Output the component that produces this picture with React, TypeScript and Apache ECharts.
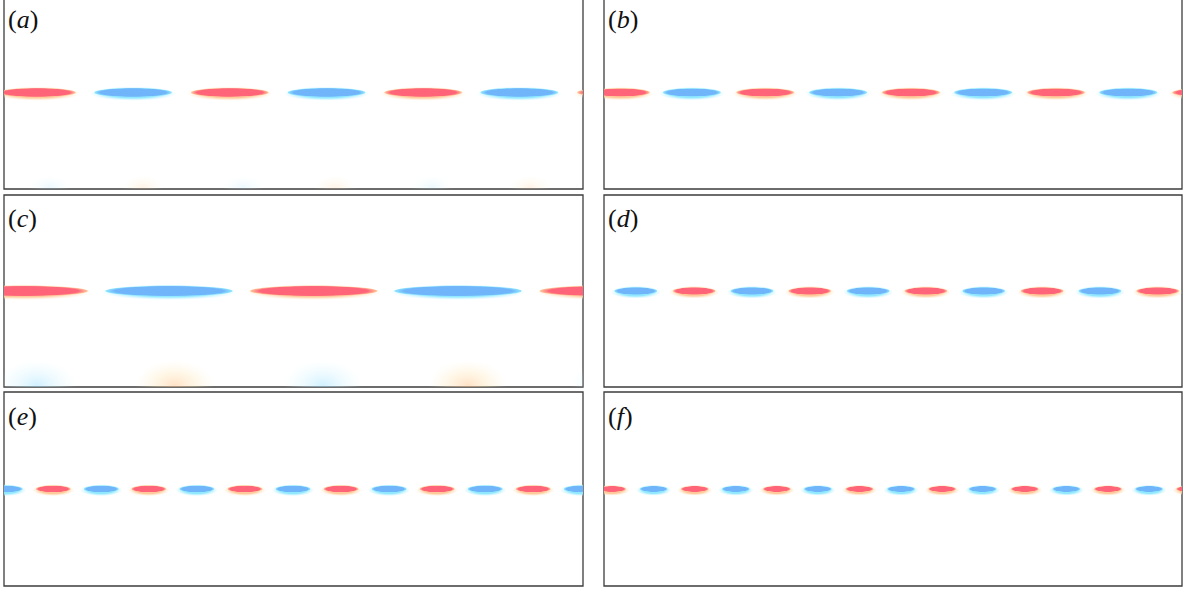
import React, { useEffect, useRef } from "react";
import * as echarts from "echarts";

// Panel labels
const panelLabels = ["a", "b", "c", "d", "e", "f"];

// Streamwise positions of the primary (centre-line) structures, x in [0, 10]
// sign: +1 = positive (red), -1 = negative (blue)
const aCenters = [0.57, 2.23, 3.9, 5.57, 7.24, 8.9, 10.57];
const aSigns = [1, -1, 1, -1, 1, -1, 1];
const aHalfLength = 0.67;
const aHalfThickness = 0.047;

const bCenters = [0.29, 1.52, 2.79, 4.05, 5.31, 6.56, 7.82, 9.07, 10.33];
const bSigns = [1, -1, 1, -1, 1, -1, 1, -1, 1];
const bHalfLength = 0.5;
const bHalfThickness = 0.043;

const cCenters = [0.35, 2.85, 5.35, 7.84, 10.35];
const cSigns = [1, -1, 1, -1, 1];
const cHalfLength = 1.1;
const cHalfThickness = 0.055;

const dCenters = [0.55, 1.56, 2.56, 3.56, 4.57, 5.57, 6.57, 7.58, 8.58, 9.58];
const dSigns = [-1, 1, -1, 1, -1, 1, -1, 1, -1, 1];
const dHalfLength = 0.37;
const dHalfThickness = 0.04;

const eCenters = [0.02, 0.85, 1.68, 2.5, 3.33, 4.16, 4.99, 5.82, 6.65, 7.48, 8.31, 9.14, 9.97];
const eSigns = [-1, 1, -1, 1, -1, 1, -1, 1, -1, 1, -1, 1, -1];
const eHalfLength = 0.3;
const eHalfThickness = 0.035;

const fCenters = [0.14, 0.86, 1.57, 2.28, 2.99, 3.7, 4.42, 5.14, 5.85, 6.55, 7.28, 8.0, 8.72, 9.43, 10.14];
const fSigns = [1, -1, 1, -1, 1, -1, 1, -1, 1, -1, 1, -1, 1, -1, 1];
const fHalfLength = 0.24;
const fHalfThickness = 0.031;

// Weak secondary structures near the lower wall (panels a and c)
const aLowerCenters = [0.79, 2.4, 4.13, 5.72, 7.39, 9.08];
const aLowerSigns = [-1, 1, -1, 1, -1, 1];
const aLowerAmplitude = 0.12;
const aLowerHalfLength = 0.36;
const aLowerHalfThickness = 0.12;
const aLowerY = -0.98;

const cLowerCenters = [0.57, 2.95, 5.51, 8.01, 10.47];
const cLowerSigns = [-1, 1, -1, 1, -1];
const cLowerAmplitude = 0.3;
const cLowerHalfLength = 0.68;
const cLowerHalfThickness = 0.26;
const cLowerY = -0.98;

type Blob = [number, number, number, number, number];

function blobs(centers: number[], signs: number[], hl: number, ht: number, y = 0, amp = 1): Blob[] {
  return centers.map((x, i) => [x, y, hl, ht, signs[i] * amp]);
}

const panelData: Blob[][] = [
  [...blobs(aLowerCenters, aLowerSigns, aLowerHalfLength, aLowerHalfThickness, aLowerY, aLowerAmplitude), ...blobs(aCenters, aSigns, aHalfLength, aHalfThickness)],
  blobs(bCenters, bSigns, bHalfLength, bHalfThickness),
  [...blobs(cLowerCenters, cLowerSigns, cLowerHalfLength, cLowerHalfThickness, cLowerY, cLowerAmplitude), ...blobs(cCenters, cSigns, cHalfLength, cHalfThickness)],
  blobs(dCenters, dSigns, dHalfLength, dHalfThickness),
  blobs(eCenters, eSigns, eHalfLength, eHalfThickness),
  blobs(fCenters, fSigns, fHalfLength, fHalfThickness),
];

const gridBoxes = [
  { left: 4, top: -4, width: 579, height: 193 },
  { left: 604, top: -4, width: 578, height: 193 },
  { left: 4, top: 195, width: 579, height: 192 },
  { left: 604, top: 195, width: 578, height: 192 },
  { left: 4, top: 392, width: 579, height: 194 },
  { left: 604, top: 392, width: 578, height: 194 },
];

const labelPos = [
  [8, 6],
  [608, 6],
  [8, 205],
  [608, 205],
  [8, 403],
  [608, 403],
];

function renderBlob(params: any, api: any) {
  const x = api.value(0);
  const y = api.value(1);
  const hl = api.value(2);
  const ht = api.value(3);
  const amp = api.value(4);
  const c = api.coord([x, y]);
  const s = api.size([hl, ht]);
  const rx = s[0];
  const ry = s[1];
  const cs = params.coordSys;
  const pos = amp > 0;
  let children: any[];
  if (Math.abs(amp) > 0.5) {
    const core = pos ? "rgb(255,100,121)" : "rgb(112,180,250)";
    const halo = pos ? "rgba(255,200,150,0.95)" : "rgba(140,232,255,0.95)";
    const haloOut = pos ? "rgba(255,235,200,0)" : "rgba(200,245,255,0)";
    children = [
      {
        type: "ellipse",
        shape: { cx: c[0], cy: c[1] + 1.2, rx: rx + 4, ry: ry + 2.6 },
        style: {
          fill: new echarts.graphic.RadialGradient(0.5, 0.5, 0.5, [
            { offset: 0, color: halo },
            { offset: 0.6, color: halo },
            { offset: 1, color: haloOut },
          ]),
        },
      },
      {
        type: "ellipse",
        shape: { cx: c[0], cy: c[1], rx, ry },
        style: {
          fill: new echarts.graphic.RadialGradient(0.5, 0.5, 0.5, [
            { offset: 0, color: core },
            { offset: 0.85, color: core },
            { offset: 1, color: halo },
          ]),
        },
      },
    ];
  } else {
    const a = Math.abs(amp);
    const inner = pos ? `rgba(255,195,140,${a * 1.6})` : `rgba(160,225,255,${a * 1.6})`;
    const mid = pos ? `rgba(255,225,170,${a})` : `rgba(200,240,255,${a})`;
    const outer = pos ? "rgba(255,240,200,0)" : "rgba(220,248,255,0)";
    children = [
      {
        type: "ellipse",
        shape: { cx: c[0], cy: c[1], rx, ry },
        style: {
          fill: new echarts.graphic.RadialGradient(0.5, 0.5, 0.5, [
            { offset: 0, color: inner },
            { offset: 0.5, color: mid },
            { offset: 1, color: outer },
          ]),
        },
      },
    ];
  }
  return {
    type: "group",
    clipPath: { type: "rect", shape: { x: cs.x, y: cs.y, width: cs.width, height: cs.height } },
    children,
  };
}

export default function App() {
  const ref = useRef<HTMLDivElement>(null);
  useEffect(() => {
    document.body.style.margin = "0";
    const chart = echarts.init(ref.current!, null, { renderer: "svg" });
    const option: any = {
      animation: false,
      backgroundColor: "#ffffff",
      grid: gridBoxes.map((g) => ({
        ...g,
        show: true,
        borderColor: "#3c3c3c",
        borderWidth: 1.3,
        backgroundColor: "#ffffff",
        containLabel: false,
        outerBoundsMode: "none",
      })),
      xAxis: gridBoxes.map((_, i) => ({ type: "value", gridIndex: i, min: 0, max: 10, show: false })),
      yAxis: gridBoxes.map((_, i) => ({ type: "value", gridIndex: i, min: -1, max: 1, show: false })),
      series: panelData.map((d, i) => ({
        type: "custom",
        xAxisIndex: i,
        yAxisIndex: i,
        renderItem: renderBlob,
        data: d,
        silent: true,
      })),
      graphic: panelLabels.map((l, i) => ({
        type: "text",
        x: labelPos[i][0],
        y: labelPos[i][1],
        z: 100,
        style: {
          text: `{p|(}{i|${l}}{p|)}`,
          rich: {
            p: { fontFamily: "Liberation Serif", fontSize: 26, fill: "#111", fontStyle: "normal" },
            i: { fontFamily: "Liberation Serif", fontSize: 26, fill: "#111", fontStyle: "italic" },
          },
        },
      })),
    };
    chart.setOption(option);
    return () => chart.dispose();
  }, []);
  return <div ref={ref} style={{ width: 1183, height: 592 }} />;
}
